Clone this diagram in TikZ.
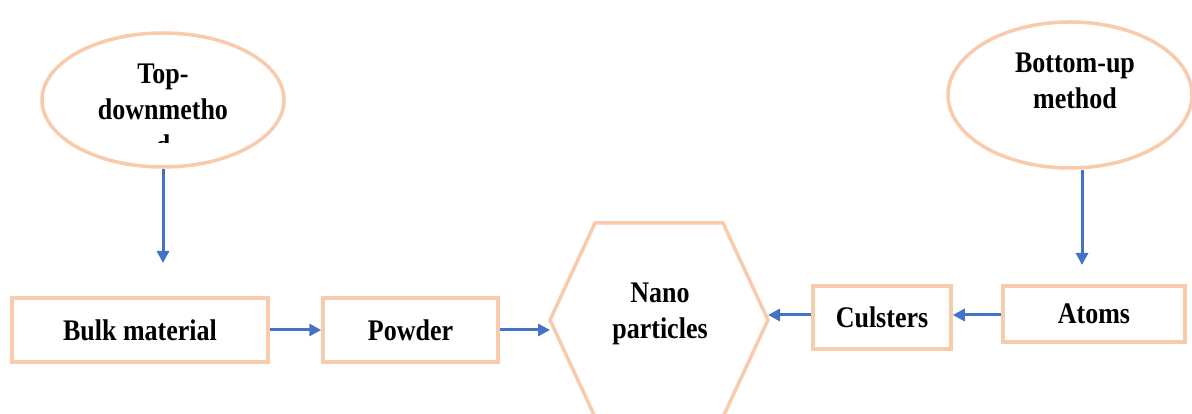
\documentclass[tikz,border=0pt]{standalone}
\usepackage{fontspec}
\setmainfont{Liberation Serif}
\usetikzlibrary{arrows.meta,shapes.geometric}
\definecolor{peach}{HTML}{F8CBAD}
\definecolor{arrblue}{HTML}{4472C4}
\newcommand{\st}[1]{\scalebox{1}[1.15]{#1}}
\begin{document}
\begin{tikzpicture}[x=1pt,y=1pt,
 shp/.style={draw=peach,line width=3.5pt},
 boxn/.style={shp,rectangle,inner sep=0pt,font=\fontsize{26}{36}\selectfont\bfseries},
 ell/.style={shp,ellipse,inner sep=0pt},
 lbl/.style={align=center,inner sep=0pt,font=\fontsize{26}{36}\selectfont\bfseries},
 arr/.style={draw=arrblue,line width=3pt,-{Triangle[length=12pt,width=12pt]}}]
\useasboundingbox (0,0) rectangle (1192,414);
\fill[white] (0,0) rectangle (1192,414);
% top-down ellipse
\node[ell,minimum width=242pt,minimum height=134pt] (td) at (163,314) {};
\begin{scope}
\clip (30,271) rectangle (300,400);
\node[lbl] (tdt) at (163,304) {\st{Top-}\\\st{downmetho}\\\st{d}};
\end{scope}
% bottom-up ellipse
\node[ell,minimum width=244pt,minimum height=146pt] (bu) at (1070,319) {};
\node[lbl] (but) at (1075,333) {\st{Bottom-up}\\\st{method}};
% boxes
\node[boxn,minimum width=256pt,minimum height=64pt] (bulk) at (140,84) {\st{Bulk material}};
\node[boxn,minimum width=175pt,minimum height=64pt] (pow) at (410.5,84) {\st{Powder}};
\node[boxn,minimum width=138pt,minimum height=63pt] (cul) at (882,96.5) {\st{Culsters}};
\node[boxn,minimum width=182pt,minimum height=56pt] (at) at (1094,100) {\st{Atoms}};
% hexagon
\coordinate (hL) at (550,94);
\coordinate (hTL) at (595,191);
\coordinate (hTR) at (723,191);
\coordinate (hR) at (768,94);
\coordinate (hBR) at (723,-3);
\coordinate (hBL) at (595,-3);
\draw[shp,line join=miter] (hL)--(hTL)--(hTR)--(hR)--(hBR)--(hBL)--cycle;
\node[lbl] (np) at (660,100.6) {\st{Nano}\\\st{particles}};
% arrows
\coordinate (ltip) at (163,151);
\coordinate (rtip) at (1082,149);
\coordinate (ay) at (0,99);
\draw[arr] (td.south) -- (ltip);
\draw[arr] (rtip |- bu.south) -- (rtip);
\draw[arr] (bulk.east) -- (pow.west);
\draw[arr] (pow.east) -- (pow.east -| hL);
\draw[arr] (at.west |- ay) -- (cul.east |- ay);
\draw[arr] (cul.west |- ay) -- (hR |- ay);
\end{tikzpicture}
\end{document}
